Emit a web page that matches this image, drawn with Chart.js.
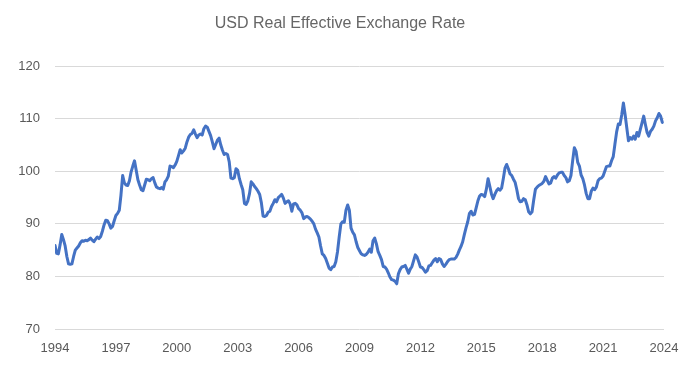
<!DOCTYPE html>
<html>
<head>
<meta charset="utf-8">
<script src="https://cdn.jsdelivr.net/npm/chart.js@4/dist/chart.umd.min.js"></script>
<style>
  html, body { margin: 0; padding: 0; background: #ffffff; }
  #wrap { width: 680px; height: 372px; position: relative; }
</style>
</head>
<body>
<div id="wrap"><canvas id="c" width="680" height="372"></canvas></div>
<script>
// Monthly USD real effective exchange rate, Jan 1994 .. Dec 2023
const startYear = 1994;
const yearTicks = [1994, 1997, 2000, 2003, 2006, 2009, 2012, 2015, 2018, 2021, 2024];
const yTicks = [70, 80, 90, 100, 110, 120];
const reer = [
  // 1994
  85.9, 84.4, 84.3, 86.0, 88.0, 87.0, 85.8, 83.8, 82.4, 82.3, 82.4, 83.8,
  // 1995
  85.0, 85.4, 85.8, 86.4, 86.8, 86.7, 86.9, 86.8, 87.0, 87.3, 86.9, 86.6,
  // 1996
  87.1, 87.5, 87.2, 87.6, 88.6, 89.8, 90.7, 90.6, 90.0, 89.2, 89.5, 90.6,
  // 1997
  91.6, 92.0, 92.6, 95.5, 99.2, 97.8, 97.4, 97.3, 98.2, 99.9, 101.0, 102.0,
  // 1998
  100.2, 98.4, 97.4, 96.5, 96.3, 97.4, 98.5, 98.4, 98.2, 98.6, 98.8, 97.8,
  // 1999
  97.0, 96.8, 96.7, 96.9, 96.6, 98.0, 98.4, 99.1, 101.0, 100.9, 100.7, 101.2,
  // 2000
  101.9, 103.0, 104.1, 103.5, 103.9, 104.4, 105.6, 106.5, 107.0, 107.2, 107.9, 107.1,
  // 2001
  106.4, 106.9, 107.1, 106.9, 108.1, 108.6, 108.4, 107.6, 106.8, 105.6, 104.3, 105.1,
  // 2002
  105.9, 106.3, 105.0, 104.0, 103.2, 103.4, 103.2, 101.8, 98.7, 98.6, 98.8, 100.5,
  // 2003
  100.2, 98.6, 97.5, 96.5, 93.9, 93.7, 94.4, 95.8, 98.0, 97.6, 97.1, 96.7,
  // 2004
  96.2, 95.6, 94.0, 91.5, 91.4, 91.6, 92.2, 92.4, 93.3, 93.9, 94.6, 94.2,
  // 2005
  95.0, 95.3, 95.6, 94.9, 93.9, 94.2, 94.4, 93.8, 92.4, 93.8, 93.9, 93.6,
  // 2006
  92.9, 92.6, 92.1, 91.0, 91.3, 91.4, 91.2, 90.9, 90.5, 90.0, 89.0, 88.3,
  // 2007
  87.5, 85.8, 84.3, 84.0, 83.4, 82.5, 81.6, 81.3, 81.8, 81.9, 82.8, 84.7,
  // 2008
  87.5, 90.0, 90.4, 90.3, 92.6, 93.6, 92.6, 89.2, 88.4, 87.9, 86.6, 85.5,
  // 2009
  84.9, 84.3, 84.1, 84.0, 84.2, 84.6, 85.2, 84.6, 86.8, 87.3, 86.2, 84.7,
  // 2010
  84.0, 83.2, 81.9, 81.8, 81.4, 80.7, 79.9, 79.4, 79.3, 79.1, 78.6, 80.5,
  // 2011
  81.3, 81.8, 81.9, 82.1, 81.4, 80.6, 81.4, 81.9, 83.0, 84.1, 83.7, 82.8,
  // 2012
  81.8, 81.7, 81.3, 80.8, 81.1, 82.0, 82.1, 82.6, 83.1, 83.4, 82.8, 83.4,
  // 2013
  83.2, 82.4, 81.9, 82.3, 82.8, 83.2, 83.3, 83.3, 83.3, 83.6, 84.2, 85.0,
  // 2014
  85.7, 86.6, 88.0, 89.3, 90.4, 92.0, 92.4, 91.7, 91.8, 93.1, 94.4, 95.3,
  // 2015
  95.6, 95.5, 95.2, 96.6, 98.6, 97.2, 95.7, 94.8, 95.6, 96.3, 96.7, 96.4,
  // 2016
  96.8, 98.6, 100.6, 101.3, 100.5, 99.5, 99.2, 98.5, 97.9, 96.5, 94.8, 94.2,
  // 2017
  94.3, 94.8, 94.6, 93.6, 92.3, 91.9, 92.3, 94.6, 96.6, 97.0, 97.3, 97.5,
  // 2018
  97.7, 98.1, 99.0, 98.3, 97.6, 97.8, 98.7, 99.0, 98.7, 99.3, 99.7, 99.8,
  // 2019
  99.8, 99.2, 98.8, 98.0, 98.2, 99.2, 102.0, 104.5, 103.8, 101.7, 101.0, 99.3,
  // 2020
  98.6, 97.4, 95.8, 94.8, 94.8, 96.2, 96.8, 96.5, 97.0, 98.2, 98.6, 98.7,
  // 2021
  99.1, 100.0, 100.9, 101.0, 101.0, 102.0, 102.8, 105.2, 107.5, 109.0, 108.9, 110.7,
  // 2022
  113.0, 110.8, 108.3, 105.8, 106.4, 106.1, 106.7, 106.1, 107.4, 106.7, 108.0, 109.2,
  // 2023
  110.5, 108.9, 107.4, 106.7, 107.6, 108.0, 108.6, 109.6, 110.2, 111.0, 110.5, 109.3
];

const points = reer.map((v, i) => ({ x: i, y: v }));
const firstTick = (yearTicks[0] - startYear) * 12;
const lastTick = (yearTicks[yearTicks.length - 1] - startYear) * 12;

const FONT = "'Liberation Sans', Arial, sans-serif";
const GREY = '#595959';

new Chart(document.getElementById('c'), {
  type: 'line',
  data: {
    datasets: [{
      label: 'USD Real Effective Exchange Rate',
      data: points,
      borderColor: '#4472C4',
      borderWidth: 3,
      pointRadius: 0,
      tension: 0,
      fill: false,
      borderJoinStyle: 'round',
      borderCapStyle: 'round'
    }]
  },
  options: {
    responsive: false,
    animation: false,
    devicePixelRatio: 1,
    layout: { padding: { left: 0, right: 0, top: 0, bottom: 0 } },
    plugins: {
      legend: { display: false },
      tooltip: { enabled: false },
      title: {
        display: true,
        text: 'USD Real Effective Exchange Rate',
        color: '#666666',
        font: { family: FONT, size: 16, weight: 'normal', lineHeight: 1.2 },
        padding: { top: 14, bottom: 33 }
      }
    },
    scales: {
      x: {
        type: 'linear',
        min: firstTick,
        max: lastTick,
        grid: { display: false, drawTicks: false },
        border: { display: false },
        afterBuildTicks: (s) => {
          s.ticks = yearTicks.map(y => ({ value: (y - startYear) * 12 }));
        },
        ticks: {
          autoSkip: false,
          maxRotation: 0,
          padding: 12,
          color: GREY,
          font: { family: FONT, size: 13 },
          callback: (v) => String(startYear + Math.round(v / 12))
        },
        afterFit: (s) => { s.height = 43; s.paddingRight = 16; s.paddingLeft = 0; }
      },
      y: {
        min: yTicks[0],
        max: yTicks[yTicks.length - 1],
        afterBuildTicks: (s) => { s.ticks = yTicks.map(v => ({ value: v })); },
        grid: { color: '#d9d9d9', lineWidth: 1, drawTicks: false },
        border: { display: false },
        ticks: {
          padding: 15,
          color: GREY,
          font: { family: FONT, size: 13 }
        },
        afterFit: (s) => { s.width = 55; }
      }
    }
  }
});
</script>
</body>
</html>
